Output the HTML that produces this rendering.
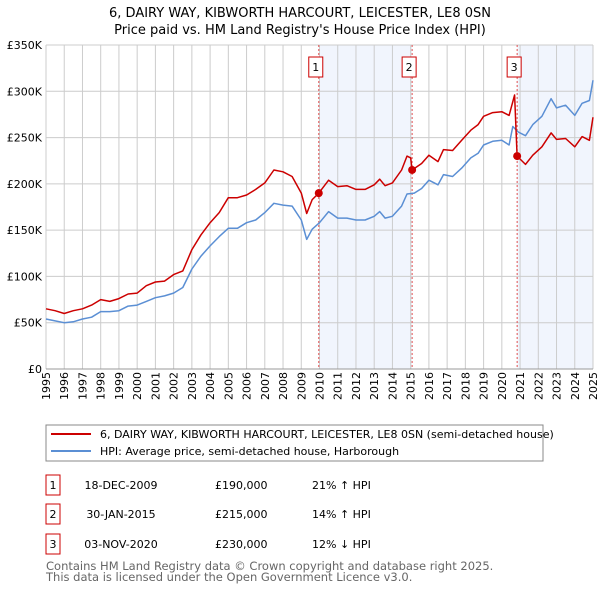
<!DOCTYPE html>
<html><head><meta charset="utf-8">
<style>
body{margin:0;background:#fff;width:600px;height:590px;overflow:hidden;font-family:"DejaVu Sans","Liberation Sans",sans-serif;}
svg text{font-family:"DejaVu Sans","Liberation Sans",sans-serif;}
</style></head><body>
<svg id="chart" width="600" height="590" viewBox="0 0 600 590" xmlns="http://www.w3.org/2000/svg">
<text x="300" y="17" text-anchor="middle" font-size="13">6, DAIRY WAY, KIBWORTH HARCOURT, LEICESTER, LE8 0SN</text>
<text x="300" y="34" text-anchor="middle" font-size="13">Price paid vs. HM Land Registry's House Price Index (HPI)</text>
<g id="plot"></g>
<g>
<rect x="46" y="425" width="497" height="36" fill="#fff" stroke="#888"/>
<line x1="51" y1="434" x2="91" y2="434" stroke="#cc0000" stroke-width="2"/>
<text x="100" y="438" font-size="11">6, DAIRY WAY, KIBWORTH HARCOURT, LEICESTER, LE8 0SN (semi-detached house)</text>
<line x1="51" y1="451" x2="91" y2="451" stroke="#5b8fd4" stroke-width="2"/>
<text x="100" y="455" font-size="11">HPI: Average price, semi-detached house, Harborough</text>
</g>
<g id="table" font-size="11"></g>
<text x="46" y="570" font-size="11.5" fill="#666">Contains HM Land Registry data © Crown copyright and database right 2025.</text>
<text x="46" y="581" font-size="11.5" fill="#666">This data is licensed under the Open Government Licence v3.0.</text>
</svg>
<script>
const hpiYears=[1995,1995.5,1996,1996.5,1997,1997.5,1998,1998.5,1999,1999.5,2000,2000.5,2001,2001.5,2002,2002.5,2003,2003.5,2004,2004.5,2005,2005.5,2006,2006.5,2007,2007.5,2008,2008.5,2009,2009.3,2009.6,2010,2010.5,2011,2011.5,2012,2012.5,2013,2013.3,2013.6,2014,2014.5,2014.8,2015.2,2015.6,2016,2016.5,2016.8,2017.3,2017.8,2018.3,2018.7,2019,2019.5,2020,2020.4,2020.6,2020.9,2021.3,2021.7,2022.2,2022.7,2023,2023.5,2024,2024.4,2024.8,2025];
const hpiValues=[54,52,50,51,54,56,62,62,63,68,69,73,77,79,82,88,108,122,133,143,152,152,158,161,169,179,177,176,161,140,151,158,170,163,163,161,161,165,170,163,165,176,189,190,195,204,199,210,208,217,228,233,242,246,247,242,262,256,252,264,273,292,282,285,274,287,290,312];
const priceYears=[1995,1995.5,1996,1996.5,1997,1997.5,1998,1998.5,1999,1999.5,2000,2000.5,2001,2001.5,2002,2002.5,2003,2003.5,2004,2004.5,2005,2005.5,2006,2006.5,2007,2007.5,2008,2008.5,2009,2009.3,2009.6,2009.96,2010.5,2011,2011.5,2012,2012.5,2013,2013.3,2013.6,2014,2014.5,2014.8,2015,2015.08,2015.6,2016,2016.5,2016.8,2017.3,2017.8,2018.3,2018.7,2019,2019.5,2020,2020.4,2020.7,2020.84,2021.3,2021.7,2022.2,2022.7,2023,2023.5,2024,2024.4,2024.8,2025];
const priceValues=[65,63,60,63,65,69,75,73,76,81,82,90,94,95,102,106,129,145,158,169,185,185,188,194,201,215,213,208,190,168,183,190,204,197,198,194,194,199,205,198,201,215,230,228,215,222,231,224,237,236,247,258,264,273,277,278,274,296,230,221,231,240,255,248,249,240,251,247,272];
const saleYears=[2009.96,2015.08,2020.84];
const saleValues=[190,215,230];
const saleLabels=["1","2","3"];
const saleDates=["18-DEC-2009","30-JAN-2015","03-NOV-2020"];
const salePrices=["£190,000","£215,000","£230,000"];
const saleHpi=["21% ↑ HPI","14% ↑ HPI","12% ↓ HPI"];
const yTicks=[0,50,100,150,200,250,300,350];
const yTickLabels=["£0","£50K","£100K","£150K","£200K","£250K","£300K","£350K"];
const xTicks=[1995,1996,1997,1998,1999,2000,2001,2002,2003,2004,2005,2006,2007,2008,2009,2010,2011,2012,2013,2014,2015,2016,2017,2018,2019,2020,2021,2022,2023,2024,2025];

const NS="http://www.w3.org/2000/svg";
const X0=46,X1=593,Y0=369,Y1=45;
const xs=y=>X0+(y-1995)/30*(X1-X0);
const ys=v=>Y0-v/350*(Y0-Y1);
const plot=document.getElementById('plot');
function mk(tag,attrs,parent){const e=document.createElementNS(NS,tag);for(const k in attrs)e.setAttribute(k,attrs[k]);(parent||plot).appendChild(e);return e;}

const b1=mk('rect',{x:xs(saleYears[0]),y:Y1,width:xs(saleYears[1])-xs(saleYears[0]),height:Y0-Y1,fill:'#eef3fc',opacity:0.8});


const b2=mk('rect',{x:xs(saleYears[2]),y:Y1,width:X1-xs(saleYears[2]),height:Y0-Y1,fill:'#eef3fc',opacity:0.8});



xTicks.forEach(t=>{
  const l=mk('line',{x1:xs(t),x2:xs(t),y1:Y1,y2:Y0,stroke:'#ccc','stroke-width':1});
  
  
  const tx=mk('text',{x:0,y:0,'font-size':11,transform:`translate(${xs(t)+4},${Y0+31}) rotate(-90)`});
  
  
  tx.textContent=t;
});
yTicks.forEach((t,i)=>{
  const l=mk('line',{x1:X0,x2:X1,y1:ys(t),y2:ys(t),stroke:'#ccc','stroke-width':1});
  
  
  const tx=mk('text',{x:X0-4,y:ys(t)+4,'font-size':11,'text-anchor':'end'});
  
  
  tx.textContent=yTickLabels[i];
});

saleYears.forEach((s,i)=>{
  const l=mk('line',{x1:xs(s),x2:xs(s),y1:Y1,y2:Y0,stroke:'#e05050','stroke-width':1,'stroke-dasharray':'2,2'});
  
  
  const r=mk('rect',{x:xs(s)-10,y:57,width:14,height:20,fill:'#fff',stroke:'#cc0000'});
  
  
  const t=mk('text',{x:xs(s)-3,y:71,'font-size':11,'text-anchor':'middle'});
  
  
  t.textContent=saleLabels[i];
});

function path(xa,va,color,name){
  const d=xa.map((x,i)=>(i?'L':'M')+xs(x).toFixed(1)+','+ys(va[i]).toFixed(1)).join('');
  const p=mk('path',{d:d,fill:'none',stroke:color,'stroke-width':1.5,'stroke-linejoin':'round'});
  
  
}
path(hpiYears,hpiValues,'#5b8fd4','hpi-line');
path(priceYears,priceValues,'#cc0000','price-line');
saleYears.forEach((s,i)=>{
  const c=mk('circle',{cx:xs(s),cy:ys(saleValues[i]),r:4,fill:'#cc0000'});
  
  
});
const ax=mk('line',{x1:X0,x2:X1,y1:Y0,y2:Y0,stroke:'#999'});



const tb=document.getElementById('table');
[485,514,544].forEach((cy,i)=>{
  const r=mk('rect',{x:46,y:cy-10,width:14,height:20,fill:'#fff',stroke:'#cc0000'},tb);
  
  
  const cols=[[53,saleLabels[i],'middle'],[121,saleDates[i],'middle'],[215,salePrices[i],'start'],[312,saleHpi[i],'start']];
  cols.forEach(c=>{
    const t=mk('text',{x:c[0],y:cy+4,'text-anchor':c[2]},tb);
    
    
    t.textContent=c[1];
  });
});
</script>
</body></html>
